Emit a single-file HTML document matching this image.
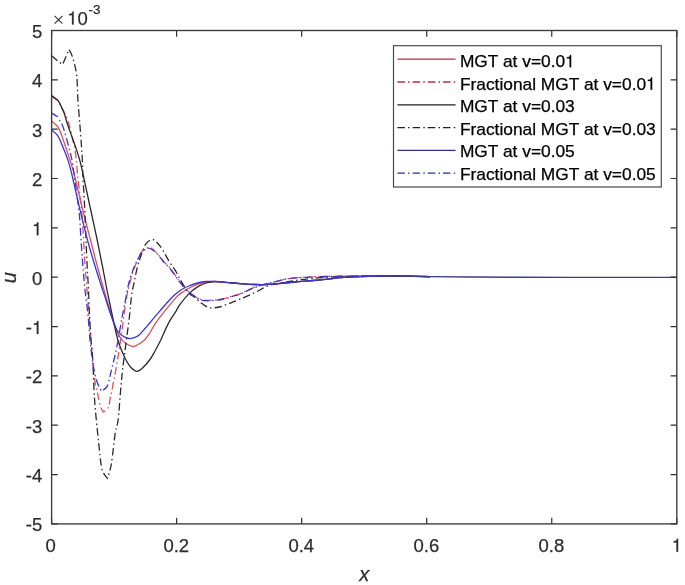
<!DOCTYPE html>
<html><head><meta charset="utf-8"><style>
html,body{margin:0;padding:0;background:#fff;width:685px;height:585px;overflow:hidden;}
svg{display:block;will-change:transform;}
</style></head><body>
<svg width="685" height="585" viewBox="0 0 685 585">
<rect x="0" y="0" width="685" height="585" fill="#fff"/>
<g>
<defs><clipPath id="ax"><rect x="51.6" y="30.5" width="625.2" height="493.4"/></clipPath></defs>
<g clip-path="url(#ax)" fill="none" stroke-width="1.30" stroke-linejoin="round">
<path d="M51.60,121.20 C52.70,122.22 56.28,124.25 58.20,127.30 C60.12,130.35 61.28,134.47 63.10,139.50 C64.92,144.53 67.35,152.08 69.10,157.50 C70.85,162.92 72.12,166.58 73.60,172.00 C75.08,177.42 76.27,182.83 78.00,190.00 C79.73,197.17 81.92,206.67 84.00,215.00 C86.08,223.33 88.33,231.67 90.50,240.00 C92.67,248.33 94.75,256.67 97.00,265.00 C99.25,273.33 101.62,281.67 104.00,290.00 C106.38,298.33 109.47,308.83 111.30,315.00 C113.13,321.17 113.67,323.42 115.00,327.00 C116.33,330.58 117.58,333.85 119.30,336.50 C121.02,339.15 123.03,341.23 125.30,342.90 C127.57,344.57 130.78,346.23 132.90,346.50 C135.02,346.77 136.08,345.58 138.00,344.50 C139.92,343.42 142.40,342.00 144.40,340.00 C146.40,338.00 148.13,335.32 150.00,332.50 C151.87,329.68 152.95,326.90 155.60,323.10 C158.25,319.30 162.47,313.98 165.90,309.70 C169.33,305.42 173.85,300.03 176.20,297.40 C178.55,294.77 177.90,295.43 180.00,293.90 C182.10,292.37 185.88,289.80 188.80,288.20 C191.72,286.60 194.58,285.33 197.50,284.30 C200.42,283.27 203.38,282.47 206.30,282.00 C209.22,281.53 212.08,281.48 215.00,281.50 C217.92,281.52 220.88,281.85 223.80,282.10 C226.72,282.35 229.80,282.75 232.50,283.00 C235.20,283.25 236.32,283.35 240.00,283.60 C243.68,283.85 249.73,284.37 254.60,284.50 C259.47,284.63 264.33,284.65 269.20,284.40 C274.07,284.15 278.93,283.45 283.80,283.00 C288.67,282.55 293.53,282.12 298.40,281.70 C303.27,281.28 308.13,280.93 313.00,280.50 C317.87,280.07 323.10,279.57 327.60,279.10 C332.10,278.63 334.60,278.12 340.00,277.70 C345.40,277.28 353.33,276.87 360.00,276.60 C366.67,276.33 373.33,276.18 380.00,276.10 C386.67,276.02 391.67,276.02 400.00,276.10 C408.33,276.18 425.00,276.52 430.00,276.60" stroke="#d8505e"/>
<path d="M51.60,96.60 C52.70,97.33 57.10,100.27 58.20,101.00 C59.12,102.75 62.23,108.67 63.70,111.50 C65.17,114.33 65.87,114.92 67.00,118.00 C68.13,121.08 69.50,126.17 70.50,130.00 C71.50,133.83 72.17,137.13 73.00,141.00 C73.83,144.87 74.73,147.53 75.50,153.20 C76.27,158.87 76.88,168.03 77.60,175.00 C78.32,181.97 79.07,188.33 79.80,195.00 C80.53,201.67 81.37,207.50 82.00,215.00 C82.63,222.50 83.10,231.67 83.60,240.00 C84.10,248.33 84.43,256.67 85.00,265.00 C85.57,273.33 86.33,281.67 87.00,290.00 C87.67,298.33 88.33,306.67 89.00,315.00 C89.67,323.33 90.33,331.67 91.00,340.00 C91.67,348.33 92.25,357.50 93.00,365.00 C93.75,372.50 94.92,381.17 95.50,385.00 C96.08,388.83 95.97,385.67 96.50,388.00 C97.03,390.33 97.98,395.73 98.70,399.00 C99.42,402.27 100.02,405.45 100.80,407.60 C101.58,409.75 102.97,411.18 103.40,411.90 C104.22,411.15 107.17,409.68 108.30,407.40 C109.43,405.12 109.60,401.02 110.20,398.20 C110.80,395.38 111.33,393.35 111.90,390.50 C112.47,387.65 113.07,383.87 113.60,381.10 C114.13,378.33 114.25,378.68 115.10,373.90 C115.95,369.12 117.55,359.72 118.70,352.40 C119.85,345.08 121.05,336.78 122.00,330.00 C122.95,323.22 123.57,317.53 124.40,311.70 C125.23,305.87 126.17,299.45 127.00,295.00 C127.83,290.55 128.57,288.45 129.40,285.00 C130.23,281.55 131.15,277.22 132.00,274.30 C132.85,271.38 133.50,270.07 134.50,267.50 C135.50,264.93 136.72,261.62 138.00,258.90 C139.28,256.18 140.35,253.10 142.20,251.20 C144.05,249.30 146.82,247.35 149.10,247.50 C151.38,247.65 153.35,249.62 155.90,252.10 C158.45,254.58 162.05,259.75 164.40,262.40 C166.75,265.05 167.53,264.92 170.00,268.00 C172.47,271.08 176.20,277.05 179.20,280.90 C182.20,284.75 185.53,288.65 188.00,291.10 C190.47,293.55 192.12,294.28 194.00,295.60 C195.88,296.92 197.25,298.22 199.30,299.00 C201.35,299.78 203.68,300.13 206.30,300.30 C208.92,300.47 212.08,300.27 215.00,300.00 C217.92,299.73 220.88,299.35 223.80,298.70 C226.72,298.05 229.80,296.90 232.50,296.10 C235.20,295.30 236.87,295.15 240.00,293.90 C243.13,292.65 247.97,290.00 251.30,288.60 C254.63,287.20 257.08,286.38 260.00,285.50 C262.92,284.62 265.88,284.03 268.80,283.30 C271.72,282.57 274.52,281.83 277.50,281.10 C280.48,280.37 283.22,279.47 286.70,278.90 C290.18,278.33 294.52,278.00 298.40,277.70 C302.28,277.40 305.13,277.30 310.00,277.10 C314.87,276.90 322.60,276.65 327.60,276.50 C332.60,276.35 334.60,276.28 340.00,276.20 C345.40,276.12 353.33,276.03 360.00,276.00 C366.67,275.97 373.33,275.98 380.00,276.00 C386.67,276.02 391.67,276.00 400.00,276.10 C408.33,276.20 425.00,276.52 430.00,276.60" stroke="#d8505e" stroke-dasharray="7.5 3.2 1.5 3"/>
<path d="M51.60,95.40 C52.73,96.28 57.27,99.82 58.40,100.70 C59.28,102.58 62.20,108.12 63.70,112.00 C65.20,115.88 66.07,119.98 67.40,124.00 C68.73,128.02 70.13,131.67 71.70,136.10 C73.27,140.53 75.38,146.32 76.80,150.60 C78.22,154.88 79.13,157.73 80.20,161.80 C81.27,165.87 81.98,169.47 83.20,175.00 C84.42,180.53 86.07,188.33 87.50,195.00 C88.93,201.67 90.18,207.50 91.80,215.00 C93.42,222.50 95.47,231.67 97.20,240.00 C98.93,248.33 100.57,256.67 102.20,265.00 C103.83,273.33 105.33,281.67 107.00,290.00 C108.67,298.33 110.43,306.83 112.20,315.00 C113.97,323.17 115.98,333.00 117.60,339.00 C119.22,345.00 120.50,347.50 121.90,351.00 C123.30,354.50 124.48,357.25 126.00,360.00 C127.52,362.75 129.17,365.62 131.00,367.50 C132.83,369.38 135.00,371.30 137.00,371.30 C139.00,371.30 140.83,369.47 143.00,367.50 C145.17,365.53 148.00,362.25 150.00,359.50 C152.00,356.75 153.20,354.25 155.00,351.00 C156.80,347.75 158.63,344.48 160.80,340.00 C162.97,335.52 165.43,328.97 168.00,324.10 C170.57,319.23 174.20,314.08 176.20,310.80 C178.20,307.52 177.90,307.22 180.00,304.40 C182.10,301.58 185.88,296.82 188.80,293.90 C191.72,290.98 194.58,288.72 197.50,286.90 C200.42,285.08 203.38,283.88 206.30,283.00 C209.22,282.12 212.08,281.75 215.00,281.60 C217.92,281.45 220.88,281.87 223.80,282.10 C226.72,282.33 229.80,282.75 232.50,283.00 C235.20,283.25 236.32,283.35 240.00,283.60 C243.68,283.85 249.73,284.37 254.60,284.50 C259.47,284.63 264.33,284.65 269.20,284.40 C274.07,284.15 278.93,283.45 283.80,283.00 C288.67,282.55 293.53,282.12 298.40,281.70 C303.27,281.28 308.13,280.93 313.00,280.50 C317.87,280.07 323.10,279.57 327.60,279.10 C332.10,278.63 334.60,278.12 340.00,277.70 C345.40,277.28 353.33,276.87 360.00,276.60 C366.67,276.33 373.33,276.18 380.00,276.10 C386.67,276.02 391.67,276.02 400.00,276.10 C408.33,276.18 425.00,276.52 430.00,276.60" stroke="#2a2a2a"/>
<path d="M51.60,55.70 C52.77,56.70 56.75,60.27 58.60,61.70 C60.45,63.13 62.02,63.87 62.70,64.30 C63.75,61.85 67.95,52.05 69.00,49.60 C69.55,50.73 71.07,52.53 72.30,56.40 C73.53,60.27 75.55,67.53 76.40,72.80 C77.25,78.07 77.13,83.18 77.40,88.00 C77.67,92.82 77.67,96.57 78.00,101.70 C78.33,106.83 79.02,114.08 79.40,118.80 C79.78,123.52 79.95,125.40 80.30,130.00 C80.65,134.60 81.17,141.53 81.50,146.40 C81.83,151.27 82.08,154.43 82.30,159.20 C82.52,163.97 82.52,169.03 82.80,175.00 C83.08,180.97 83.63,188.33 84.00,195.00 C84.37,201.67 84.67,207.50 85.00,215.00 C85.33,222.50 85.65,231.67 86.00,240.00 C86.35,248.33 86.68,256.67 87.10,265.00 C87.52,273.33 88.10,281.67 88.50,290.00 C88.90,298.33 89.08,306.67 89.50,315.00 C89.92,323.33 90.45,332.50 91.00,340.00 C91.55,347.50 92.20,350.00 92.80,360.00 C93.40,370.00 93.65,386.42 94.60,400.00 C95.55,413.58 97.38,430.50 98.50,441.50 C99.62,452.50 100.47,460.75 101.30,466.00 C102.13,471.25 102.48,470.92 103.50,473.00 C104.52,475.08 106.75,477.58 107.40,478.50 C107.72,477.47 108.60,475.00 109.30,472.30 C110.00,469.60 110.60,468.90 111.60,462.30 C112.60,455.70 114.22,439.75 115.30,432.70 C116.38,425.65 117.13,428.00 118.10,420.00 C119.07,412.00 120.20,394.37 121.10,384.70 C122.00,375.03 122.15,373.03 123.50,362.00 C124.85,350.97 127.87,329.47 129.20,318.50 C130.53,307.53 130.67,302.28 131.50,296.20 C132.33,290.12 133.22,286.87 134.20,282.00 C135.18,277.13 136.30,271.30 137.40,267.00 C138.50,262.70 139.47,259.93 140.80,256.20 C142.13,252.47 143.63,247.37 145.40,244.60 C147.17,241.83 149.63,240.12 151.40,239.60 C153.17,239.08 154.25,239.98 156.00,241.50 C157.75,243.02 159.78,245.52 161.90,248.70 C164.02,251.88 166.30,256.70 168.70,260.60 C171.10,264.50 174.27,268.73 176.30,272.10 C178.33,275.47 178.82,277.32 180.90,280.80 C182.98,284.28 186.47,290.23 188.80,293.00 C191.13,295.77 192.72,295.65 194.90,297.40 C197.08,299.15 199.42,301.75 201.90,303.50 C204.38,305.25 206.88,307.32 209.80,307.90 C212.72,308.48 216.20,307.73 219.40,307.00 C222.60,306.27 225.57,304.80 229.00,303.50 C232.43,302.20 235.73,301.00 240.00,299.20 C244.27,297.40 249.73,295.00 254.60,292.70 C259.47,290.40 264.33,287.12 269.20,285.40 C274.07,283.68 278.93,283.30 283.80,282.40 C288.67,281.50 293.53,280.67 298.40,280.00 C303.27,279.33 308.13,278.87 313.00,278.40 C317.87,277.93 323.10,277.50 327.60,277.20 C332.10,276.90 334.60,276.80 340.00,276.60 C345.40,276.40 353.33,276.10 360.00,276.00 C366.67,275.90 373.33,275.98 380.00,276.00 C386.67,276.02 391.67,276.00 400.00,276.10 C408.33,276.20 425.00,276.52 430.00,276.60" stroke="#2a2a2a" stroke-dasharray="7.5 3.2 1.5 3"/>
<path d="M51.60,130.00 C52.67,131.02 55.93,132.80 58.00,136.10 C60.07,139.40 62.30,145.67 64.00,149.80 C65.70,153.93 66.87,156.70 68.20,160.90 C69.53,165.10 70.53,168.98 72.00,175.00 C73.47,181.02 75.33,189.83 77.00,197.00 C78.67,204.17 80.17,210.50 82.00,218.00 C83.83,225.50 85.88,234.17 88.00,242.00 C90.12,249.83 92.53,257.83 94.70,265.00 C96.87,272.17 99.12,279.17 101.00,285.00 C102.88,290.83 104.50,295.42 106.00,300.00 C107.50,304.58 108.20,307.55 110.00,312.50 C111.80,317.45 114.80,325.87 116.80,329.70 C118.80,333.53 120.00,334.03 122.00,335.50 C124.00,336.97 126.80,338.15 128.80,338.50 C130.80,338.85 132.27,338.18 134.00,337.60 C135.73,337.02 137.37,336.52 139.20,335.00 C141.03,333.48 143.12,330.67 145.00,328.50 C146.88,326.33 147.87,325.10 150.50,322.00 C153.13,318.90 157.70,313.48 160.80,309.90 C163.90,306.32 166.73,303.05 169.10,300.50 C171.47,297.95 172.97,296.40 175.00,294.60 C177.03,292.80 179.00,291.13 181.30,289.70 C183.60,288.27 186.10,287.12 188.80,286.00 C191.50,284.88 194.58,283.75 197.50,283.00 C200.42,282.25 203.38,281.75 206.30,281.50 C209.22,281.25 212.08,281.40 215.00,281.50 C217.92,281.60 220.88,281.85 223.80,282.10 C226.72,282.35 229.80,282.75 232.50,283.00 C235.20,283.25 236.32,283.35 240.00,283.60 C243.68,283.85 249.73,284.37 254.60,284.50 C259.47,284.63 264.33,284.65 269.20,284.40 C274.07,284.15 278.93,283.45 283.80,283.00 C288.67,282.55 293.53,282.12 298.40,281.70 C303.27,281.28 308.13,280.93 313.00,280.50 C317.87,280.07 323.10,279.57 327.60,279.10 C332.10,278.63 334.60,278.12 340.00,277.70 C345.40,277.28 353.33,276.87 360.00,276.60 C366.67,276.33 373.33,276.18 380.00,276.10 C386.67,276.02 391.67,276.02 400.00,276.10 C408.33,276.18 425.00,276.52 430.00,276.60" stroke="#3c34d0"/>
<path d="M51.60,113.00 C52.58,113.62 56.52,116.08 57.50,116.70 C57.92,117.45 59.13,119.65 60.00,121.20 C60.87,122.75 61.68,123.37 62.70,126.00 C63.72,128.63 64.88,132.75 66.10,137.00 C67.32,141.25 69.00,147.52 70.00,151.50 C71.00,155.48 71.52,157.82 72.10,160.90 C72.68,163.98 72.77,164.82 73.50,170.00 C74.23,175.18 75.52,184.50 76.50,192.00 C77.48,199.50 78.65,207.00 79.40,215.00 C80.15,223.00 80.43,231.67 81.00,240.00 C81.57,248.33 82.13,256.67 82.80,265.00 C83.47,273.33 84.13,281.67 85.00,290.00 C85.87,298.33 87.17,306.67 88.00,315.00 C88.83,323.33 89.27,332.50 90.00,340.00 C90.73,347.50 91.65,354.67 92.40,360.00 C93.15,365.33 93.82,368.67 94.50,372.00 C95.18,375.33 95.73,377.48 96.50,380.00 C97.27,382.52 98.27,385.23 99.10,387.10 C99.93,388.97 101.10,390.52 101.50,391.20 C102.32,390.58 105.23,388.90 106.40,387.50 C107.57,386.10 107.93,384.58 108.50,382.80 C109.07,381.02 109.37,378.65 109.80,376.80 C110.23,374.95 110.58,373.83 111.10,371.70 C111.62,369.57 112.13,367.22 112.90,364.00 C113.67,360.78 114.77,356.73 115.70,352.40 C116.63,348.07 117.70,342.40 118.50,338.00 C119.30,333.60 119.83,329.83 120.50,326.00 C121.17,322.17 121.67,319.33 122.50,315.00 C123.33,310.67 124.52,305.00 125.50,300.00 C126.48,295.00 127.40,289.28 128.40,285.00 C129.40,280.72 130.48,277.47 131.50,274.30 C132.52,271.13 133.42,268.57 134.50,266.00 C135.58,263.43 136.72,261.27 138.00,258.90 C139.28,256.53 140.45,253.58 142.20,251.80 C143.95,250.02 146.22,248.07 148.50,248.20 C150.78,248.33 153.25,250.15 155.90,252.60 C158.55,255.05 162.05,260.25 164.40,262.90 C166.75,265.55 167.53,265.43 170.00,268.50 C172.47,271.57 176.20,277.47 179.20,281.30 C182.20,285.13 185.53,289.05 188.00,291.50 C190.47,293.95 192.12,294.68 194.00,296.00 C195.88,297.32 197.25,298.62 199.30,299.40 C201.35,300.18 203.68,300.55 206.30,300.70 C208.92,300.85 212.08,300.58 215.00,300.30 C217.92,300.02 220.88,299.65 223.80,299.00 C226.72,298.35 229.80,297.20 232.50,296.40 C235.20,295.60 236.87,295.47 240.00,294.20 C243.13,292.93 247.97,290.23 251.30,288.80 C254.63,287.37 257.08,286.52 260.00,285.60 C262.92,284.68 265.88,284.05 268.80,283.30 C271.72,282.55 274.52,281.83 277.50,281.10 C280.48,280.37 283.22,279.47 286.70,278.90 C290.18,278.33 294.52,278.00 298.40,277.70 C302.28,277.40 305.13,277.30 310.00,277.10 C314.87,276.90 322.60,276.65 327.60,276.50 C332.60,276.35 334.60,276.28 340.00,276.20 C345.40,276.12 353.33,276.03 360.00,276.00 C366.67,275.97 373.33,275.98 380.00,276.00 C386.67,276.02 391.67,276.00 400.00,276.10 C408.33,276.20 425.00,276.52 430.00,276.60" stroke="#3c34d0" stroke-dasharray="7.5 3.2 1.5 3"/>
<path d="M380.00,276.05 C383.33,276.06 391.67,276.01 400.00,276.10 C408.33,276.19 418.33,276.45 430.00,276.60 C441.67,276.75 455.00,276.88 470.00,277.00 C485.00,277.12 498.33,277.24 520.00,277.30 C541.67,277.36 573.87,277.34 600.00,277.35 C626.13,277.36 664.00,277.35 676.80,277.35" stroke="#3c3c8c" stroke-width="1.4"/>
</g>
<path d="M51.60,523.90V517.70 M51.60,30.50V36.70 M176.64,523.90V517.70 M176.64,30.50V36.70 M301.68,523.90V517.70 M301.68,30.50V36.70 M426.72,523.90V517.70 M426.72,30.50V36.70 M551.76,523.90V517.70 M551.76,30.50V36.70 M676.80,523.90V517.70 M676.80,30.50V36.70 M51.60,523.90H57.80 M676.80,523.90H670.60 M51.60,474.56H57.80 M676.80,474.56H670.60 M51.60,425.22H57.80 M676.80,425.22H670.60 M51.60,375.88H57.80 M676.80,375.88H670.60 M51.60,326.54H57.80 M676.80,326.54H670.60 M51.60,277.20H57.80 M676.80,277.20H670.60 M51.60,227.86H57.80 M676.80,227.86H670.60 M51.60,178.52H57.80 M676.80,178.52H670.60 M51.60,129.18H57.80 M676.80,129.18H670.60 M51.60,79.84H57.80 M676.80,79.84H670.60 M51.60,30.50H57.80 M676.80,30.50H670.60" stroke="#2e2e2e" stroke-width="1.2" fill="none"/>
<rect x="51.60" y="30.50" width="625.20" height="493.40" fill="none" stroke="#3a3a3a" stroke-width="1.35"/>
<g font-family="&quot;Liberation Sans&quot;, sans-serif" font-size="18.5" fill="#2e2e2e" stroke="#2e2e2e" stroke-width="0.25">
<text x="50.60" y="551.80" text-anchor="middle">0</text>
<text x="176.24" y="551.80" text-anchor="middle">0.2</text>
<text x="301.28" y="551.80" text-anchor="middle">0.4</text>
<text x="426.32" y="551.80" text-anchor="middle">0.6</text>
<text x="551.36" y="551.80" text-anchor="middle">0.8</text>
<text x="42.30" y="531.40" text-anchor="end">-5</text>
<text x="42.30" y="482.06" text-anchor="end">-4</text>
<text x="42.30" y="432.72" text-anchor="end">-3</text>
<text x="42.30" y="383.38" text-anchor="end">-2</text>
<text x="42.30" y="284.70" text-anchor="end">0</text>
<text x="42.30" y="186.02" text-anchor="end">2</text>
<text x="42.30" y="136.68" text-anchor="end">3</text>
<text x="42.30" y="87.34" text-anchor="end">4</text>
<text x="42.30" y="38.00" text-anchor="end">5</text>
<text x="32.01" y="334.04" text-anchor="end">-</text>
</g>
<path d="M347,0L347,-709L289,-709C258,-600 238,-585 102,-568L102,-505L259,-505L259,0Z" transform="translate(671.66,551.80) scale(0.01850)" fill="#2e2e2e" stroke="#2e2e2e" stroke-width="13.5"/>
<path d="M347,0L347,-709L289,-709C258,-600 238,-585 102,-568L102,-505L259,-505L259,0Z" transform="translate(32.01,235.36) scale(0.01850)" fill="#2e2e2e" stroke="#2e2e2e" stroke-width="13.5"/>
<path d="M347,0L347,-709L289,-709C258,-600 238,-585 102,-568L102,-505L259,-505L259,0Z" transform="translate(32.01,334.04) scale(0.01850)" fill="#2e2e2e" stroke="#2e2e2e" stroke-width="13.5"/>
<g font-family="&quot;Liberation Sans&quot;, sans-serif" fill="#2e2e2e" stroke="#2e2e2e" stroke-width="0.25">
<path d="M54.6,15.9L62.4,23.7M62.4,15.9L54.6,23.7" stroke="#2e2e2e" stroke-width="1.1" fill="none"/>
<path d="M347,0L347,-709L289,-709C258,-600 238,-585 102,-568L102,-505L259,-505L259,0Z" transform="translate(67.20,24.60) scale(0.01850)" fill="#2e2e2e" stroke="#2e2e2e" stroke-width="13.5"/>
<text x="77.49" y="24.6" font-size="18.5">0</text>
<text x="88.4" y="14.2" font-size="13.5">-3</text>
</g>
<text x="364.3" y="580.8" font-family="&quot;Liberation Sans&quot;, sans-serif" font-style="italic" font-size="20" text-anchor="middle" fill="#2e2e2e" stroke="#2e2e2e" stroke-width="0.25">x</text>
<text transform="translate(15.9,277.6) rotate(-90)" font-family="&quot;Liberation Sans&quot;, sans-serif" font-style="italic" font-size="20" text-anchor="middle" fill="#2e2e2e" stroke="#2e2e2e" stroke-width="0.25">u</text>
<rect x="393.50" y="45.70" width="267.80" height="141.30" fill="#fff" stroke="#4a4a4a" stroke-width="1.2"/>
<path d="M397.4,59.20H455.6" stroke="#b03040" stroke-width="1.3" fill="none"/>
<text x="459.9" y="67.20" font-family="&quot;Liberation Sans&quot;, sans-serif" font-size="17.35" fill="#000" stroke="#000" stroke-width="0.25">MGT at v=0.0</text>
<path d="M347,0L347,-709L289,-709C258,-600 238,-585 102,-568L102,-505L259,-505L259,0Z" transform="translate(565.12,67.20) scale(0.01735)" fill="#000" stroke="#000" stroke-width="14.4"/>
<path d="M397.4,82.00H455.6" stroke="#b03040" stroke-width="1.3" fill="none" stroke-dasharray="7.5 3.2 1.5 3"/>
<text x="459.9" y="89.70" font-family="&quot;Liberation Sans&quot;, sans-serif" font-size="17.35" fill="#000" stroke="#000" stroke-width="0.25">Fractional MGT at v=0.0</text>
<path d="M347,0L347,-709L289,-709C258,-600 238,-585 102,-568L102,-505L259,-505L259,0Z" transform="translate(646.12,89.70) scale(0.01735)" fill="#000" stroke="#000" stroke-width="14.4"/>
<path d="M397.4,104.80H455.6" stroke="#202020" stroke-width="1.3" fill="none"/>
<text x="459.9" y="112.20" font-family="&quot;Liberation Sans&quot;, sans-serif" font-size="17.35" fill="#000" stroke="#000" stroke-width="0.25">MGT at v=0.03</text>
<path d="M397.4,127.60H455.6" stroke="#202020" stroke-width="1.3" fill="none" stroke-dasharray="7.5 3.2 1.5 3"/>
<text x="459.9" y="134.70" font-family="&quot;Liberation Sans&quot;, sans-serif" font-size="17.35" fill="#000" stroke="#000" stroke-width="0.25">Fractional MGT at v=0.03</text>
<path d="M397.4,150.40H455.6" stroke="#302c90" stroke-width="1.3" fill="none"/>
<text x="459.9" y="157.20" font-family="&quot;Liberation Sans&quot;, sans-serif" font-size="17.35" fill="#000" stroke="#000" stroke-width="0.25">MGT at v=0.05</text>
<path d="M397.4,173.20H455.6" stroke="#302c90" stroke-width="1.3" fill="none" stroke-dasharray="7.5 3.2 1.5 3"/>
<text x="459.9" y="179.70" font-family="&quot;Liberation Sans&quot;, sans-serif" font-size="17.35" fill="#000" stroke="#000" stroke-width="0.25">Fractional MGT at v=0.05</text>
</g>
</svg>
</body></html>
